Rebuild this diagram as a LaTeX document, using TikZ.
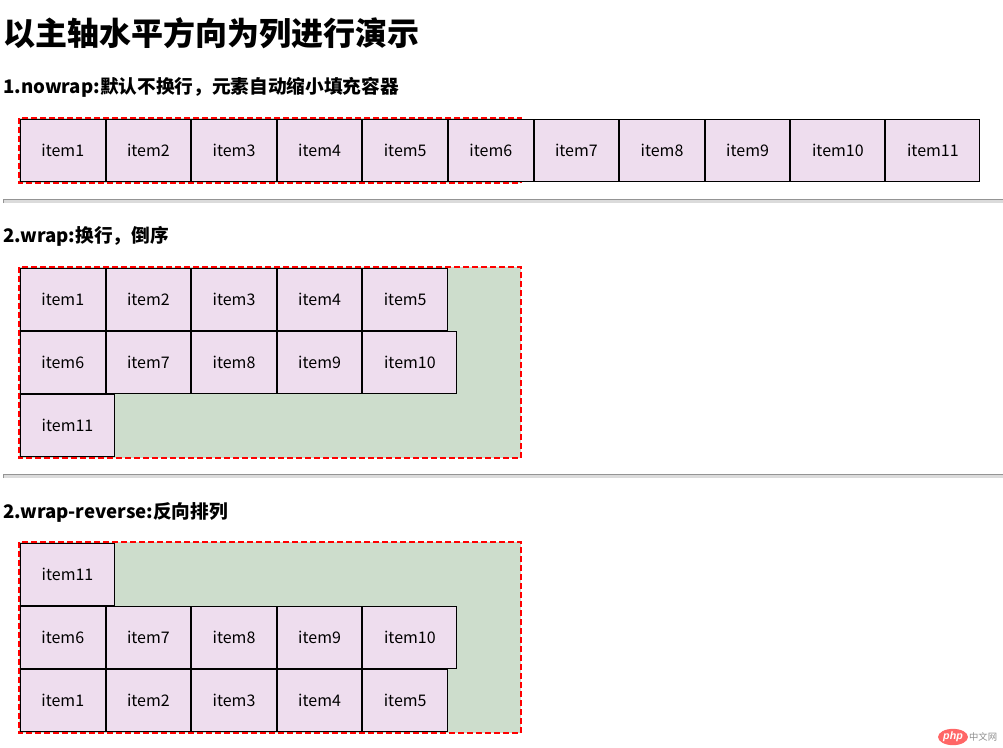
\documentclass[tikz,border=0pt]{standalone}
\usepackage{fontspec}
\setmainfont{Noto Sans CJK SC}
\newfontfamily\latinfont{Liberation Sans}
\usetikzlibrary{positioning}
\usetikzlibrary{shapes.geometric}

\definecolor{itemfill}{RGB}{238,221,238}
\definecolor{boxfill}{RGB}{205,221,204}

\tikzset{
  item/.style={draw=black, fill=itemfill, line width=0.75pt, minimum width=63.45pt,
    minimum height=46.5pt, inner sep=0pt, font=\fontsize{12}{14}\selectfont},
  wideitem/.style={item, minimum width=70.5pt},
  flexbox/.style={draw=red, fill=boxfill, line width=1.5pt, dash pattern=on 4.5pt off 2.25pt},
  heading/.style={anchor=west, inner sep=0pt, font=\bfseries\fontsize{14}{16}\selectfont},
  hrule/.style={fill=black!14},
  hedge/.style={draw=black!42, line width=0.75pt},
}

\begin{document}
\begin{tikzpicture}[x=0.75pt, y=-0.75pt]
    \useasboundingbox (0,0) rectangle (1003,747);

    \node[anchor=west, inner sep=0pt, font=\bfseries\fontsize{24}{28}\selectfont] (title) at (3,33) {以主轴水平方向为列进行演示};

    % 1. nowrap
    \node[heading] (h1) at (3,87) {1.nowrap:默认不换行，元素自动缩小填充容器};
    \draw[flexbox] (19,118) rectangle (521,183);
    \node[item, anchor=north west] (a1) at (20,119) {item1};
    \foreach \i [count=\j from 1] in {2,...,9}
        \node[item, right=0pt of a\j] (a\i) {item\i};
    \node[wideitem, right=0pt of a9] (a10) {item10};
    \node[wideitem, right=0pt of a10] (a11) {item11};

    \fill[hrule] (3,199) rectangle (1003,203);
    \draw[hedge] (3.5,203) -- (3.5,199.5) -- (1003,199.5);

    % 2. wrap
    \node[heading] (h2) at (3,236) {2.wrap:换行，倒序};
    \draw[flexbox] (19,267) rectangle (521,458);
    \node[item, anchor=north west] (b1) at (20,268) {item1};
    \foreach \i [count=\j from 1] in {2,...,5}
        \node[item, right=0pt of b\j] (b\i) {item\i};
    \node[item, anchor=north west] (b6) at (b1.south west) {item6};
    \foreach \i [count=\j from 6] in {7,...,9}
        \node[item, right=0pt of b\j] (b\i) {item\i};
    \node[wideitem, right=0pt of b9] (b10) {item10};
    \node[wideitem, anchor=north west] (b11) at (b6.south west) {item11};

    \fill[hrule] (3,474) rectangle (1003,478);
    \draw[hedge] (3.5,478) -- (3.5,474.5) -- (1003,474.5);

    % 3. wrap-reverse
    \node[heading] (h3) at (3,512) {2.wrap-reverse:反向排列};
    \draw[flexbox] (19,542) rectangle (521,733);
    \node[wideitem, anchor=north west] (c11) at (20,543) {item11};
    \node[item, anchor=north west] (c6) at (c11.south west) {item6};
    \foreach \i [count=\j from 6] in {7,...,9}
        \node[item, right=0pt of c\j] (c\i) {item\i};
    \node[wideitem, right=0pt of c9] (c10) {item10};
    \node[item, anchor=north west] (c1) at (c6.south west) {item1};
    \foreach \i [count=\j from 1] in {2,...,5}
        \node[item, right=0pt of c\j] (c\i) {item\i};

    % watermark
    \node[ellipse, fill=red!60, text=white, inner sep=0.6pt,
        font=\latinfont\bfseries\itshape\fontsize{8}{9}\selectfont] (php) at (953,737) {php};
    \node[right=0.5pt of php, inner sep=0pt, text=black!45, font=\fontsize{7}{8}\selectfont] (cn) {中文网};
\end{tikzpicture}
\end{document}
